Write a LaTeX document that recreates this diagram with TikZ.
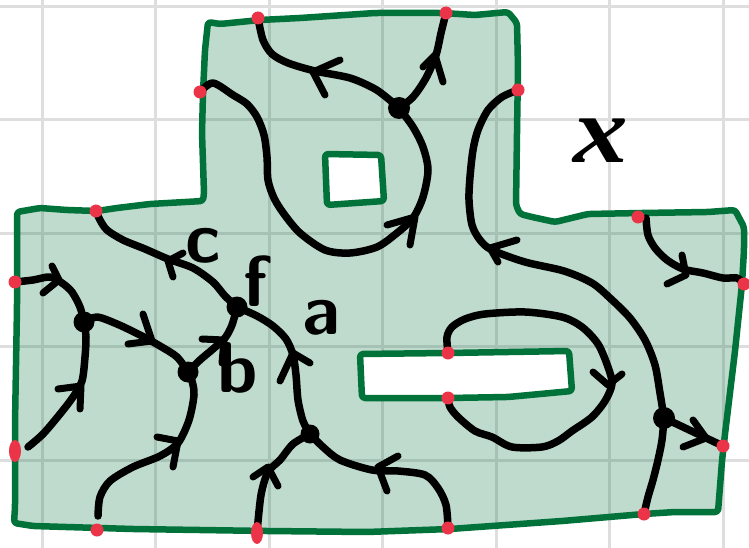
\documentclass[tikz,border=0pt]{standalone}
\usepackage{fontspec}
\newfontfamily\xfont{Liberation Serif}
\usetikzlibrary{shapes.geometric}
\definecolor{dgreen}{RGB}{0,114,58}
\definecolor{gridgray}{RGB}{222,222,222}
\definecolor{redc}{RGB}{236,52,72}
\begin{document}
\begin{tikzpicture}[x=1pt,y=-1pt,
  gridln/.style={draw=gridgray, line width=3pt},
  bound/.style={draw=dgreen, line width=6.5pt, line join=round, line cap=round, rounded corners=3pt},
  strand/.style={draw=black, line width=7.5pt, line cap=round, line join=round},
  arrowhd/.style={draw=black, line width=7pt, line cap=round, line join=round},
  vtx/.style={circle, fill=black, inner sep=0pt, minimum size=#1},
  vtx/.default=22pt,
  rdot/.style={circle, fill=redc, inner sep=0pt, minimum size=13pt},
  rdotv/.style={ellipse, fill=redc, inner sep=0pt, minimum width=12pt, minimum height=22pt},
  lab/.style={font=\sffamily\bfseries\fontsize{72}{72}\selectfont, inner sep=0pt},
  xlab/.style={font=\fontsize{95}{95}\selectfont\xfont\bfseries\itshape, inner sep=0pt, xscale=1.15}
]
\fill[white] (0,0) rectangle (749,548);
\useasboundingbox (0,0) rectangle (749,548);
% grid
\foreach \gx in {42,155,269,382,496,609,723} \draw[gridln] (\gx,0) -- (\gx,548);
\foreach \gy in {7,120,233,346,460} \draw[gridln] (0,\gy) -- (749,\gy);
% region
\def\outerpath{(17,212) -- (40,208) -- (67,210) -- (97,211) -- (117,208) -- (150,204) -- (203,201) -- (204,193) -- (202,133) -- (203,93) -- (205,50) -- (208,22) -- (220,24) -- (260,20) -- (300,18) -- (375,13) -- (442,13) -- (475,15) -- (508,12) -- (517,23) -- (518,67) -- (517,133) -- (516,205) -- (520,214) -- (532,217) -- (555,222) -- (588,214) -- (642,213) -- (708,212) -- (735,210) -- (744,227) -- (744,250) -- (742,284) -- (735,351) -- (725,434) -- (722,461) -- (718,512) -- (675,512) -- (644,514) -- (562,521) -- (450,529) -- (367,532) -- (267,531) -- (133,529) -- (33,526) -- (14,523) -- (15,507) -- (15,424) -- (17,307) -- cycle}
\def\sqpath{(325,154) -- (381,155) -- (384,201) -- (327,205) -- cycle}
\def\rectpath{(360,354) -- (448,353) -- (569,351) -- (572,391) -- (508,397) -- (448,398) -- (362,398) -- cycle}
\fill[dgreen, fill opacity=0.25] \outerpath;
\fill[white] \sqpath;
\fill[white] \rectpath;
\draw[bound] \outerpath;
\draw[bound] \sqpath;
\draw[bound] \rectpath;
% named points
\coordinate (V1) at (399,108);
\coordinate (Vl) at (84,322);
\coordinate (Vb) at (188,372);
\coordinate (Vf) at (237,307);
\coordinate (V3) at (310,434);
\coordinate (V4) at (664,418);
\coordinate (rA) at (258,18);
\coordinate (rB) at (446,13);
\coordinate (rC) at (200,92);
\coordinate (rD) at (518,90);
\coordinate (rE) at (96,211);
\coordinate (rF) at (638,217);
\coordinate (rG) at (15,282);
\coordinate (rH) at (15,451);
\coordinate (rI) at (744,284);
\coordinate (rJ) at (723,446);
\coordinate (rK) at (97,530);
\coordinate (rL) at (257,533);
\coordinate (rM) at (448,528);
\coordinate (rN) at (644,514);
\coordinate (rO) at (448,353);
\coordinate (rP) at (448,398);
\coordinate (c2s) at (28,447);
\coordinate (c5s) at (98,516);
\coordinate (c16s) at (646,218);
% strands
\draw[strand] plot[smooth] coordinates {(rG) (33,280) (50,277) (62,283) (72,292) (80,307) (Vl)};
\draw[strand] plot[smooth] coordinates {(c2s) (43,434) (60,414) (73,397) (82,381) (85,357) (86,337) (Vl)};
\draw[strand] plot[smooth] coordinates {(Vl) (97,317) (117,324) (140,335) (160,346) (177,357) (Vb)};
\draw[strand] plot[smooth] coordinates {(Vb) (200,360) (213,349) (225,338) (232,325) (Vf)};
\draw[strand] plot[smooth] coordinates {(c5s) (100,497) (110,481) (133,467) (160,456) (178,443) (189,420) (194,395) (192,381) (Vb)};
\draw[strand] plot[smooth] coordinates {(rE) (100,220) (107,230) (123,240) (145,249) (168,259) (193,268) (213,282) (225,296) (Vf)};
\draw[strand] plot[smooth] coordinates {(Vf) (257,316) (273,326) (286,339) (293,355) (296,375) (298,400) (303,421) (V3)};
\draw[strand] plot[smooth] coordinates {(V3) (293,444) (280,460) (268,472) (261,495) (rL)};
\draw[strand] plot[smooth] coordinates {(V3) (323,447) (340,460) (372,470) (398,471) (425,475) (438,488) (446,505) (rM)};
\draw[strand] plot[smooth] coordinates {(rA) (263,40) (272,54) (288,63) (315,71) (350,78) (375,89) (391,101) (V1)};
\draw[strand] plot[smooth] coordinates {(V1) (413,97) (426,78) (436,55) (441,33) (rB)};
\draw[strand] plot[smooth] coordinates {(rC) (213,83) (233,95) (247,104) (257,117) (264,135) (267,157) (268,180) (274,198) (284,214) (300,233) (325,250) (350,253) (377,247) (397,233) (413,218) (423,197) (428,170) (423,147) (413,127) (V1)};
\draw[strand] plot[smooth] coordinates {(rD) (502,97) (488,110) (478,130) (473,150) (470,177) (469,200) (472,225) (480,240) (492,250) (525,262) (564,271) (592,283) (611,299) (630,318) (645,340) (655,365) (660,393) (V4)};
\draw[strand] (V4) -- (rJ);
\draw[strand] plot[smooth] coordinates {(V4) (662,440) (658,460) (653,480) (648,497) (rN)};
\draw[strand] plot[smooth] coordinates {(c16s) (648,235) (655,248) (667,260) (683,269) (703,273) (723,278) (737,278) (rI)};
\draw[strand] plot[smooth] coordinates {(rO) (447,337) (452,327) (465,319) (485,314) (525,312) (562,317) (582,327) (598,344) (608,367) (612,384) (605,401) (592,417) (572,431) (558,441) (542,447) (512,447) (492,437) (475,431) (458,417) (450,407) (rP)};
% arrowheads
\draw[arrowhd] (52,266) -- (59,280) -- (43,293);
\draw[arrowhd] (58,389) -- (81,386) -- (80,409);
\draw[arrowhd] (143,314) -- (152,341) -- (128,344);
\draw[arrowhd] (202,339) -- (224,340) -- (222,363);
\draw[arrowhd] (157,437) -- (178,441) -- (173,467);
\draw[arrowhd] (183,253) -- (168,261) -- (173,277);
\draw[arrowhd] (280,381) -- (293,353) -- (310,363);
\draw[arrowhd] (253,477) -- (268,467) -- (278,486);
\draw[arrowhd] (398,456) -- (378,467) -- (387,491);
\draw[arrowhd] (340,60) -- (313,72) -- (325,95);
\draw[arrowhd] (423,67) -- (435,55) -- (443,82);
\draw[arrowhd] (387,225) -- (415,217) -- (410,245);
\draw[arrowhd] (517,240) -- (490,248) -- (498,262);
\draw[arrowhd] (693,420) -- (706,438) -- (683,447);
\draw[arrowhd] (682,255) -- (686,275) -- (667,284);
\draw[arrowhd] (593,372) -- (608,385) -- (622,374);
% vertices
\node[vtx] (nV1) at (V1) {};
\node[vtx=21pt] (nVl) at (Vl) {};
\node[vtx=21pt] (nVb) at (Vb) {};
\node[vtx=21pt] (nVf) at (Vf) {};
\node[vtx=19pt] (nV3) at (V3) {};
\node[vtx] (nV4) at (V4) {};
% boundary dots
\foreach \p in {rA,rB,rC,rD,rE,rF,rG,rI,rJ,rK,rM,rN,rO,rP} \node[rdot] (d\p) at (\p) {};
\node[rdotv] (drH) at (rH) {};
\node[rdotv] (drL) at (rL) {};
% labels
\node[lab] (la) at (321,318) {a};
\node[lab] (lb) at (238,368) {b};
\node[lab] (lc) at (203,246) {c};
\node[lab] (lf) at (256,281) {f};
\node[xlab] (lx) at (601,141) {x};
\end{tikzpicture}
\end{document}
